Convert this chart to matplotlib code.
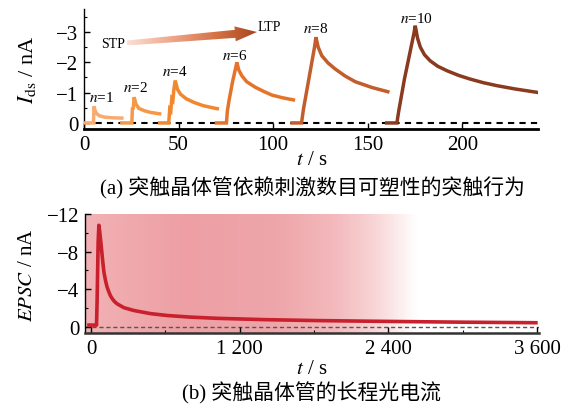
import numpy as np
import matplotlib
matplotlib.use("Agg")
import matplotlib.pyplot as plt
from matplotlib.colors import LinearSegmentedColormap
from matplotlib.patches import Polygon

plt.rcParams['font.family'] = ['Liberation Serif', 'Noto Sans CJK SC', 'DejaVu Sans']
plt.rcParams['mathtext.fontset'] = 'stix'

# ---------------- data (a) ----------------
n_labels = ['1', '2', '4', '6', '8', '10']
t1 = [0, 5.0, 5.3, 5.8, 6.5, 8, 11, 15, 20]
i1 = [0, 0, -0.55, -0.42, -0.32, -0.24, -0.19, -0.17, -0.16]
t2 = [20, 25.3, 25.6, 26.0, 26.5, 27.5, 29, 32, 35, 40]
i2 = [0, 0, -0.5, -0.45, -0.85, -0.62, -0.48, -0.40, -0.35, -0.30]
t4 = [40, 44.8, 45.3, 45.9, 46.4, 47.0, 47.5, 48.2, 49.5, 51, 54, 58, 63, 68.8, 70.5]
i4 = [0, 0, -0.45, -0.4, -0.8, -0.75, -1.1, -1.4, -1.1, -0.95, -0.8, -0.68, -0.57, -0.49, -0.47]
t6 = [70, 75.3, 75.8, 76.7, 77.6, 78.5, 79.4, 80.3, 80.8, 81.8, 83.4, 86, 90.5, 95, 99.3, 105, 110.7]
i6 = [0, 0, -0.4, -0.75, -1.05, -1.35, -1.6, -1.85, -2.0, -1.75, -1.56, -1.36, -1.18, -1.04, -0.92, -0.83, -0.76]
t8 = [110, 115, 116, 117, 118, 119, 120, 121, 122, 122.6, 123.8, 125.7, 129, 132.8, 138, 143.4, 152.2, 160.6]
i8 = [0, 0, -0.45, -0.8, -1.15, -1.5, -1.85, -2.2, -2.55, -2.83, -2.5, -2.22, -1.98, -1.78, -1.55, -1.36, -1.17, -1.03]
t10 = [160, 165.4, 166.4, 167.4, 168.4, 169.4, 170.4, 171.4, 172.4, 173.4, 174.4, 175.1, 176.3, 177.8,
       180, 183, 187, 192, 198, 204, 211, 218.3, 228, 239.5]
i10 = [0, 0, -0.4, -0.75, -1.1, -1.45, -1.75, -2.05, -2.35, -2.65, -2.95, -3.21, -2.8, -2.5,
       -2.25, -2.05, -1.87, -1.72, -1.57, -1.45, -1.33, -1.23, -1.12, -1.01]
series_t = [t1, t2, t4, t6, t8, t10]
series_i = [i1, i2, i4, i6, i8, i10]
series_colors = ['#f7ab70', '#f59848', '#f1872e', '#e5742a', '#c35d2b', '#8a3a1e']
label_pos_t = [9.5, 27, 47.9, 79.8, 122.5, 176]
label_pos_i = [-0.86, -1.19, -1.72, -2.24, -3.13, -3.47]

# ---------------- data (b) ----------------
t_epsc = [-16, 0, 45, 50, 58, 64, 70, 83, 94, 105, 118, 130, 145, 158, 172, 190, 212, 266, 346,
          480, 614, 800, 1017, 1400, 1822, 2200, 2625, 3000, 3590]
i_epsc = [-0.2, -0.2, -0.2, -3.0, -9.0, -10.8, -10.2, -8.6, -7.1, -5.8, -4.9, -4.25, -3.7, -3.3,
          -3.0, -2.7, -2.45, -2.05, -1.75, -1.42, -1.22, -1.05, -0.92, -0.78, -0.68, -0.62,
          -0.56, -0.51, -0.45]

W, H = 566, 406
fig = plt.figure(figsize=(W / 100, H / 100), dpi=100)

def frac(l, t, r, b):
    return [l / W, 1 - b / H, (r - l) / W, (b - t) / H]

tick_fs = 15
# ---------------- axes (a) ----------------
ax1 = fig.add_axes(frac(84, 10, 538, 130))
ax1.set_xlim(0, 240)
ax1.set_ylim(0.2, -3.76)
ax1.axhline(0, color='black', ls=(0, (3, 2.5)), lw=1.5, zorder=1)
for tt, ii, c in zip(series_t, series_i, series_colors):
    ax1.plot(tt, ii, color=c, lw=2.5, solid_joinstyle='miter', zorder=3)
for lab, x, y in zip(n_labels, label_pos_t, label_pos_i):
    ax1.text(x, y, r'$n$=' + lab, ha='center', va='center', fontsize=11,
             family='Liberation Serif')
ax1.text(15.3, -2.61, 'STP', ha='center', va='center', fontsize=10)
ax1.text(97.8, -3.17, 'LTP', ha='center', va='center', fontsize=10)

ax1.spines['top'].set_visible(False)
ax1.spines['right'].set_visible(False)
ax1.spines['bottom'].set_linewidth(2.0)
ax1.spines['left'].set_linewidth(1.0)
ax1.set_xticks([0, 50, 100, 150, 200])
ax1.set_yticks([-3, -2, -1, 0])
ax1.set_yticklabels(['\u22123', '\u22122', '\u22121', '0'])
ax1.set_yticks([-3.5, -2.5, -1.5, -0.5], minor=True)
ax1.tick_params(direction='in', labelsize=tick_fs, length=4, width=1, pad=4)
ax1.tick_params(which='minor', direction='in', length=2.5, width=0.8)

# gradient arrow (defined in pixel space, converted to data)
fig.canvas.draw()
tail = np.array([127.0, 44.0]); tip = np.array([257.0, 33.0])
d = tip - tail; L = np.hypot(*d); u = d / L
nrm = np.array([-u[1], u[0]])
neck = tip - u * 22
pts_top = [tail + nrm * 2.5, neck + nrm * 4, neck + nrm * 7.5, tip,
           neck - nrm * 7.5, neck - nrm * 4, tail - nrm * 2.5]
pts_disp = np.array([[p[0], H - p[1]] for p in pts_top])
pts_data = ax1.transData.inverted().transform(pts_disp)
poly = Polygon(pts_data, closed=True, facecolor='none', edgecolor='none', transform=ax1.transData)
ax1.add_patch(poly)
arrow_cmap = LinearSegmentedColormap.from_list('arr', ['#fbe0d6', '#eea88c', '#d67448', '#a8441d'])
x0, x1 = pts_data[:, 0].min(), pts_data[:, 0].max()
y0, y1 = pts_data[:, 1].min(), pts_data[:, 1].max()
im = ax1.imshow(np.linspace(0, 1, 256)[None, :], cmap=arrow_cmap, aspect='auto',
                extent=[x0, x1, y1, y0], zorder=4, interpolation='bilinear')
im.set_clip_path(poly)
ax1.set_xlim(0, 240)
ax1.set_ylim(0.2, -3.76)

# ---------------- axes (b) ----------------
ax2 = fig.add_axes(frac(85, 215, 539, 334))
ax2.set_xlim(-48, 3615)
ax2.set_ylim(0.64, -12)
bg_cmap = LinearSegmentedColormap.from_list(
    'bg', [(0.0, '#f2b2b5'), (0.22, '#ed9fa4'), (0.42, '#eea6aa'), (0.55, '#f3b9bc'),
           (0.64, '#f8d6d7'), (0.73, '#ffffff'), (1.0, '#ffffff')])
ax2.imshow(np.linspace(0, 1, 512)[None, :], cmap=bg_cmap, aspect='auto',
           extent=[-48, 3615, 0.64, -12], zorder=0, interpolation='bilinear')
ax2.set_xlim(-48, 3615)
ax2.set_ylim(0.64, -12)
ax2.axhline(0, color='#555555', ls=(0, (3, 2)), lw=1.0, zorder=1)
ax2.plot(t_epsc, i_epsc, color='#c8202c', lw=2.6, zorder=3)

ax2.spines['top'].set_visible(False)
ax2.spines['right'].set_visible(False)
ax2.spines['bottom'].set_linewidth(1.8)
ax2.spines['bottom'].set_color('#333333')
ax2.spines['left'].set_linewidth(1.0)
ax2.set_xticks([0, 1200, 2400, 3600])
ax2.set_xticklabels(['0', '1 200', '2 400', '3 600'])
ax2.set_xticks([600, 1800, 3000], minor=True)
ax2.set_yticks([-12, -8, -4, 0])
ax2.set_yticklabels(['\u221212', '\u22128', '\u22124', '0'])
ax2.set_yticks([-10, -6, -2], minor=True)
ax2.tick_params(direction='in', labelsize=tick_fs, length=4, width=1, pad=4)
ax2.tick_params(which='minor', direction='in', length=2.5, width=0.8)

# ---------------- labels & captions ----------------
fig.text(27 / W, 1 - 70 / H, r'$I_{\mathrm{ds}}$ / nA', rotation=90, ha='center', va='center', fontsize=16)
fig.text(28 / W, 1 - 275 / H, r'$EPSC$ / nA', rotation=90, ha='center', va='center', fontsize=15)
fig.text(312 / W, 1 - 161 / H, r'$t$ / s', ha='center', va='center', fontsize=15)
fig.text(312 / W, 1 - 370 / H, r'$t$ / s', ha='center', va='center', fontsize=15)
fig.text(312 / W, 1 - 188 / H, '(a) 突触晶体管依赖刺激数目可塑性的突触行为', ha='center', va='center',
         fontsize=15, family=['Liberation Serif', 'Noto Sans CJK SC'])
fig.text(311 / W, 1 - 393 / H, '(b) 突触晶体管的长程光电流', ha='center', va='center',
         fontsize=15, family=['Liberation Serif', 'Noto Sans CJK SC'])

fig.savefig('out.png', dpi=100)
